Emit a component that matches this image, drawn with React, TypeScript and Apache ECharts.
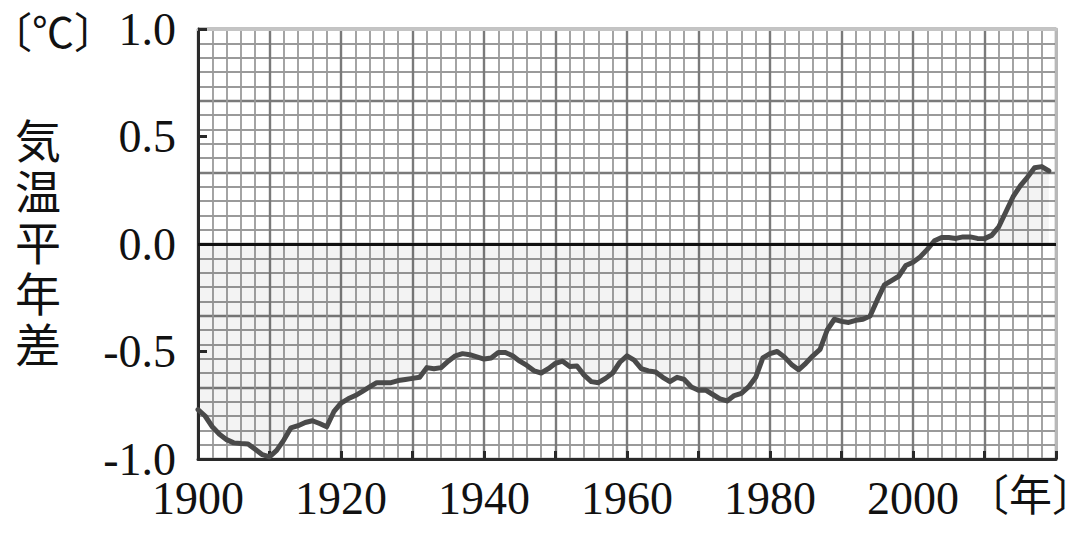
import React, { useEffect, useRef } from "react";
import * as echarts from "echarts";

const years: number[] = [];
for (let y = 1900; y <= 2019; y++) years.push(y);

const anomaly: number[] = [
  -0.77, -0.8, -0.85, -0.885, -0.91, -0.925, -0.928, -0.93, -0.955, -0.98,
  -0.99, -0.96, -0.912, -0.855, -0.845, -0.83, -0.822, -0.835, -0.85, -0.78,
  -0.74, -0.72, -0.705, -0.685, -0.665, -0.645, -0.645, -0.645, -0.635, -0.63,
  -0.625, -0.62, -0.575, -0.58, -0.575, -0.545, -0.52, -0.51, -0.515, -0.525,
  -0.535, -0.53, -0.505, -0.505, -0.52, -0.545, -0.565, -0.59, -0.6, -0.58,
  -0.555, -0.545, -0.57, -0.567, -0.61, -0.64, -0.645, -0.625, -0.6, -0.55,
  -0.52, -0.54, -0.58, -0.59, -0.595, -0.62, -0.64, -0.62, -0.63, -0.665,
  -0.68, -0.68, -0.7, -0.72, -0.73, -0.705, -0.695, -0.665, -0.62, -0.53,
  -0.51, -0.5, -0.525, -0.56, -0.585, -0.555, -0.52, -0.49, -0.4, -0.35,
  -0.36, -0.365, -0.355, -0.35, -0.335, -0.26, -0.19, -0.17, -0.15, -0.1,
  -0.085, -0.06, -0.025, 0.015, 0.03, 0.03, 0.026, 0.033, 0.033, 0.026,
  0.025, 0.04, 0.08, 0.15, 0.22, 0.27, 0.31, 0.355, 0.36, 0.34,
];

const xLabelYears = [1900, 1920, 1940, 1960, 1980, 2000];
const yTicks = [-1.0, -0.5, 0.0, 0.5, 1.0];

const SERIF = "Liberation Serif";
const CJK = "Noto Sans CJK JP";

export default function App() {
  const ref = useRef<HTMLDivElement>(null);
  useEffect(() => {
    if (!ref.current) return;
    const chart = echarts.init(ref.current, undefined, { renderer: "svg" });
    const data = years.map((y, i) => [y, anomaly[i]]);
    chart.setOption({
      animation: false,
      backgroundColor: "#ffffff",
      grid: {
        left: 198,
        right: 14,
        top: 29,
        bottom: 74,
        containLabel: false,
        outerBoundsMode: "none",
      },
      xAxis: [
        {
          type: "value",
          position: "bottom",
          min: 1900,
          max: 2020,
          interval: 10,
          axisLine: { show: true, onZero: false, lineStyle: { color: "#2a2a2a", width: 3 } },
          axisTick: { show: true, inside: true, length: 8, lineStyle: { color: "#2a2a2a", width: 3 } },
          axisLabel: {
            show: true,
            margin: 16,
            color: "#111",
            fontFamily: SERIF,
            fontSize: 46,
            formatter: (v: number) => (xLabelYears.includes(v) ? String(v) : ""),
          },
          splitLine: { show: true, lineStyle: { color: "#7a7a7a", width: 2.4 } },
          minorTick: { show: false, splitNumber: 5 },
          minorSplitLine: { show: true, lineStyle: { color: "#9a9a9a", width: 1.8 } },
        },
        {
          type: "value",
          position: "top",
          min: 1900,
          max: 2020,
          interval: 10,
          axisLine: { show: true, onZero: false, lineStyle: { color: "#c4c4c4", width: 3 } },
          axisTick: { show: false },
          axisLabel: { show: false },
          splitLine: { show: false },
        },
      ],
      yAxis: [
        {
          type: "value",
          position: "left",
          min: -1,
          max: 1,
          interval: 0.5,
          axisLine: { show: true, onZero: false, lineStyle: { color: "#2a2a2a", width: 3 } },
          axisTick: { show: true, inside: true, length: 9, lineStyle: { color: "#2a2a2a", width: 3 } },
          axisLabel: {
            show: true,
            margin: 22,
            color: "#111",
            fontFamily: SERIF,
            fontSize: 46,
            formatter: (v: number) => {
              const t = yTicks.find((k) => Math.abs(k - v) < 1e-6);
              return t === undefined ? "" : t.toFixed(1);
            },
          },
          splitLine: { show: false },
        },
        {
          type: "value",
          position: "right",
          min: -1,
          max: 1,
          interval: 1 / 3,
          axisLine: { show: true, onZero: false, lineStyle: { color: "#b8b8b8", width: 3 } },
          axisTick: { show: false },
          axisLabel: { show: false },
          splitLine: { show: true, lineStyle: { color: "#7a7a7a", width: 2.4 } },
          minorTick: { show: false, splitNumber: 5 },
          minorSplitLine: { show: true, lineStyle: { color: "#9a9a9a", width: 1.8 } },
        },
      ],
      series: [
        {
          type: "line",
          xAxisIndex: 0,
          yAxisIndex: 0,
          data,
          showSymbol: false,
          symbol: "none",
          smooth: false,
          lineStyle: { color: "#4a4a4a", width: 5, join: "round", cap: "round" },
          areaStyle: { color: "rgba(0,0,0,0.07)", origin: 0 },
          markLine: {
            silent: true,
            symbol: "none",
            label: { show: false },
            lineStyle: { color: "#111", width: 3, type: "solid" },
            data: [{ yAxis: 0 }],
          },
          z: 3,
        },
      ],
      graphic: [
        {
          type: "text",
          left: -10,
          top: 8,
          style: { text: "〔℃〕", fontSize: 42, fontFamily: CJK, fill: "#111" },
        },
        {
          type: "text",
          left: 15,
          top: 112,
          style: {
            text: "気\n温\n平\n年\n差",
            fontSize: 46,
            fontFamily: CJK,
            lineHeight: 51,
            fill: "#111",
          },
        },
        {
          type: "text",
          left: 966,
          top: 470,
          style: { text: "〔年〕", fontSize: 43, fontFamily: CJK, fill: "#111" },
        },
      ],
    });
    return () => chart.dispose();
  }, []);
  return (
    <div
      ref={ref}
      style={{ position: "fixed", left: 0, top: 0, width: 1070, height: 533, background: "#fff" }}
    />
  );
}
